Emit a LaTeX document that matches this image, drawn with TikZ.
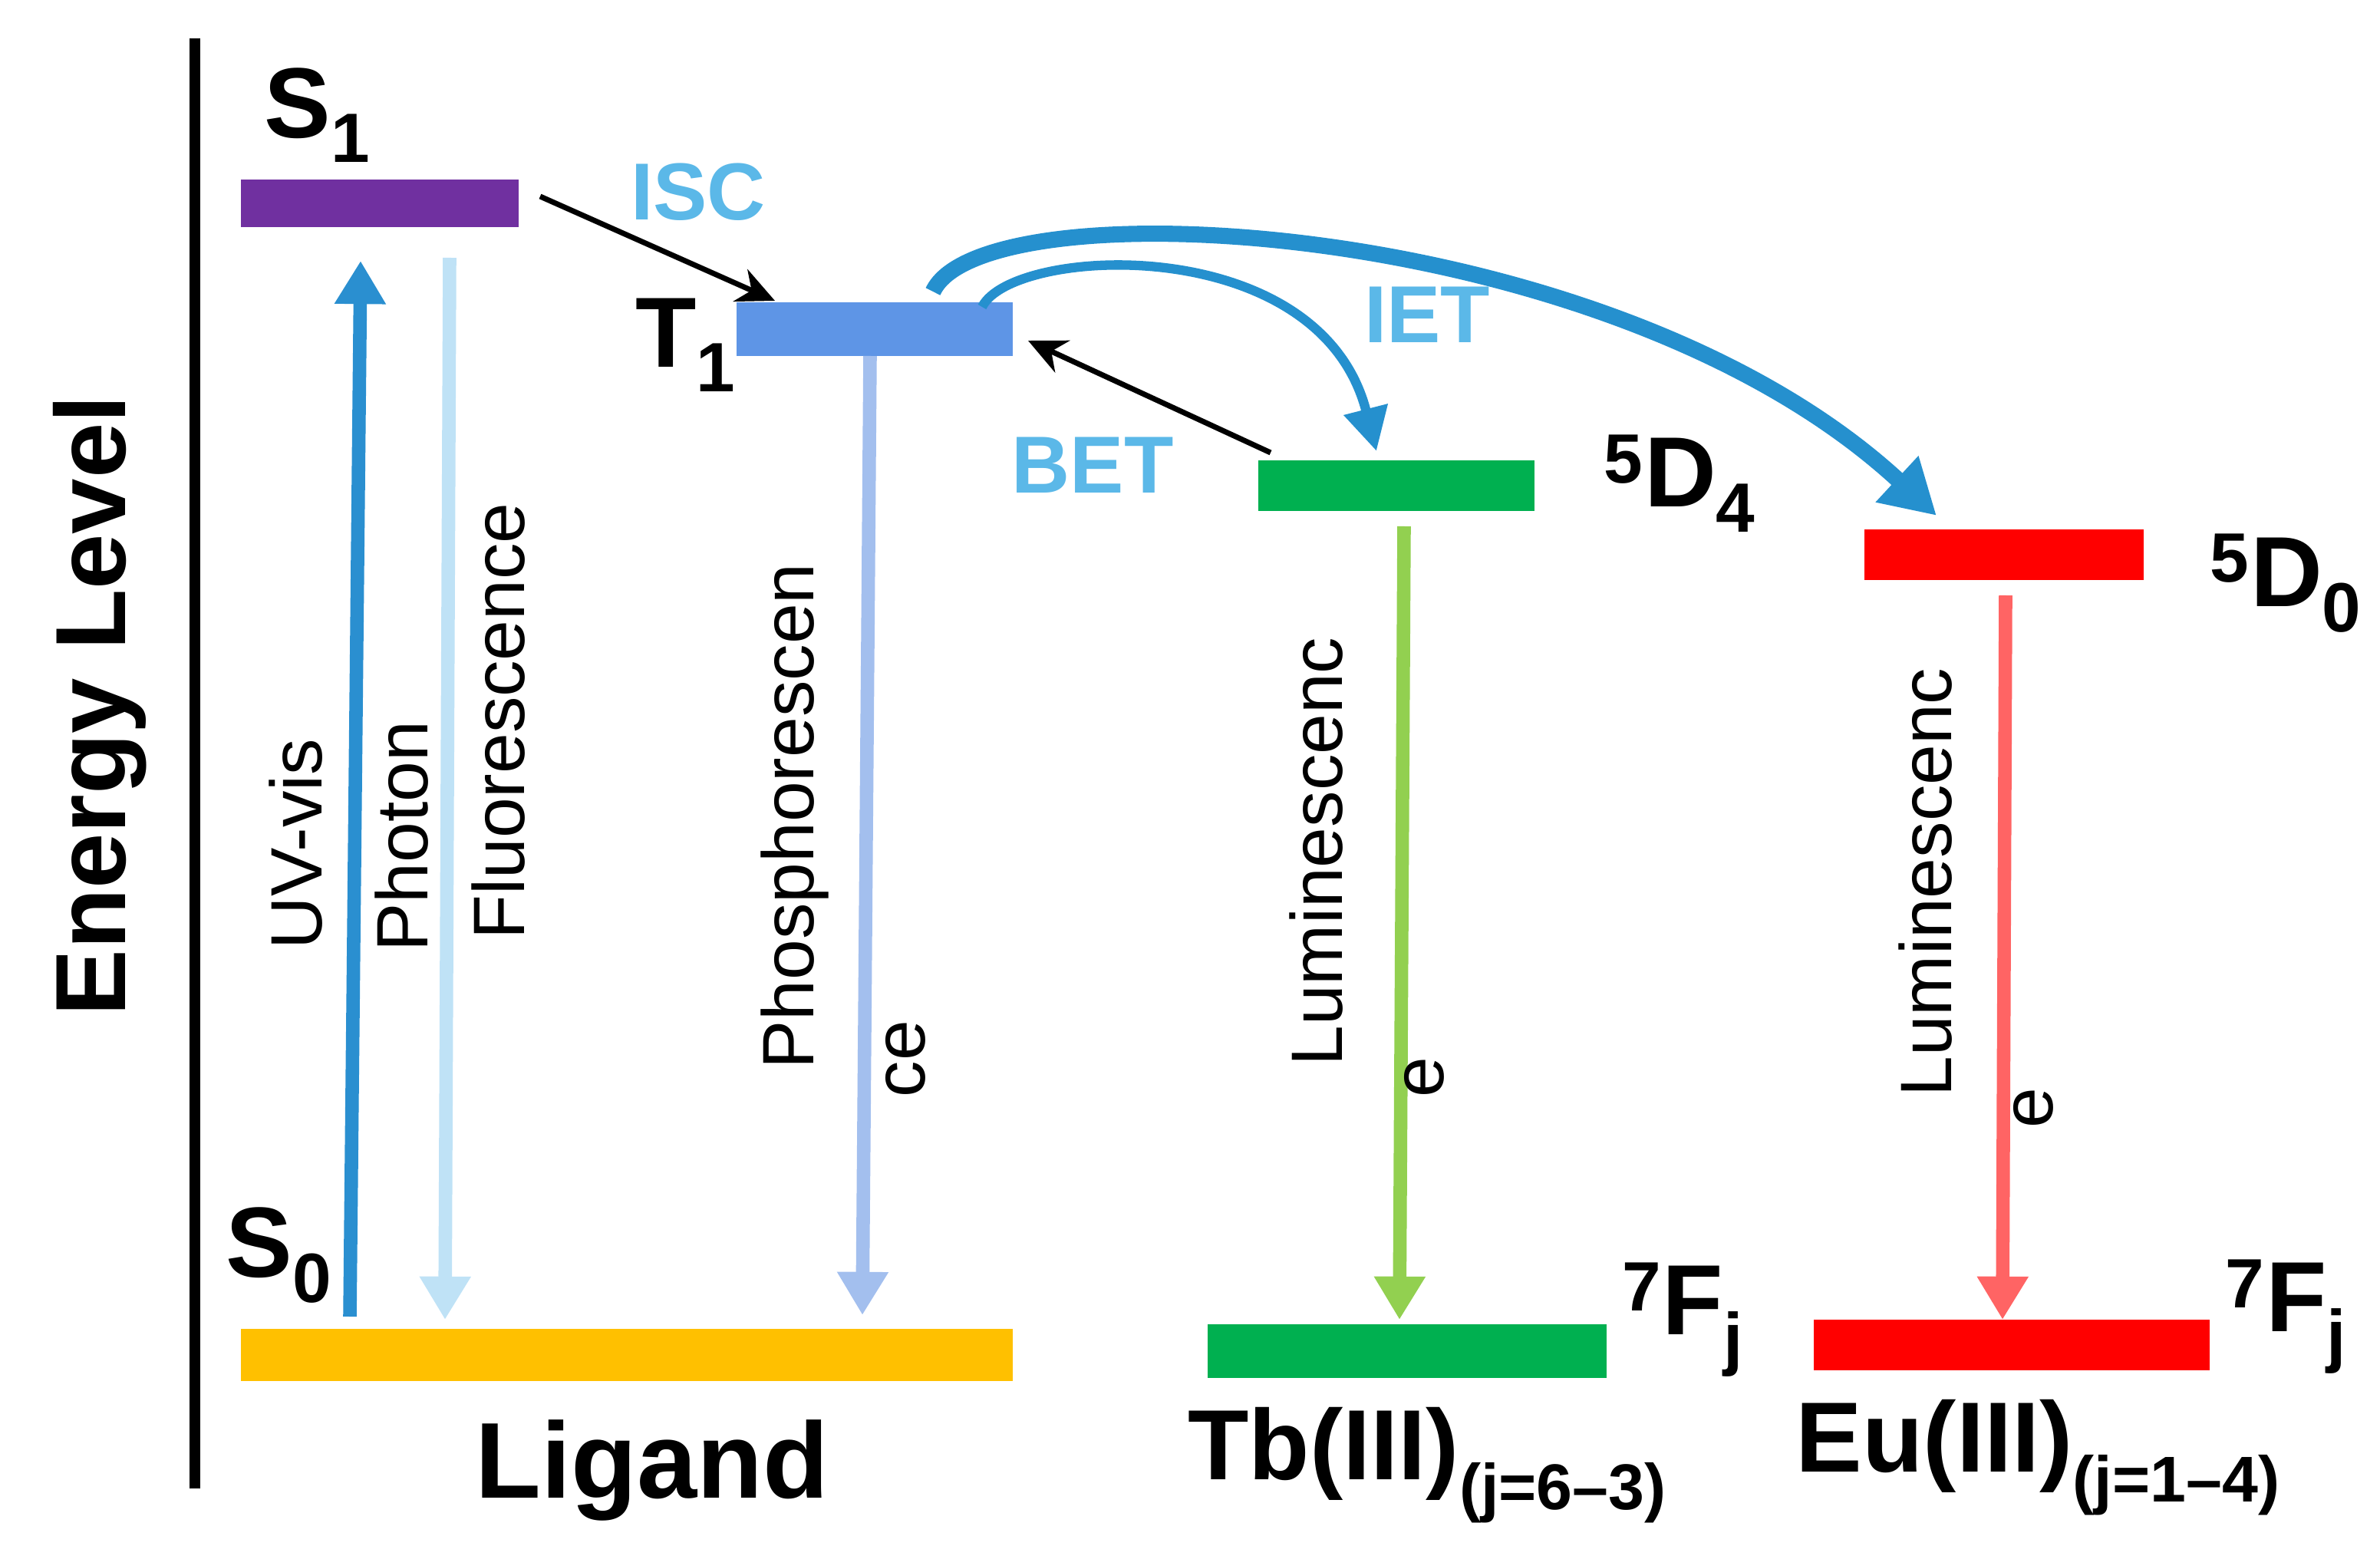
\documentclass[tikz,border=0pt]{standalone}
\usepackage{fontspec}
\setmainfont{Liberation Sans}
\usetikzlibrary{arrows.meta}
\definecolor{isc}{HTML}{5BB8E8}
\definecolor{uv}{HTML}{2A8FD0}
\definecolor{fl}{HTML}{BFE2F6}
\definecolor{ph}{HTML}{A3BFEE}
\definecolor{tone}{HTML}{5E95E6}
\definecolor{gbar}{HTML}{00B050}
\definecolor{lgreen}{HTML}{92D050}
\definecolor{lred}{HTML}{FF6464}
\definecolor{iet}{HTML}{2590CE}
\begin{document}
\begin{tikzpicture}[x=0.02cm,y=-0.02cm,
  lab/.style={font=\fontsize{27}{27}\selectfont},
  big/.style={font=\bfseries\fontsize{37}{37}\selectfont},
  vt/.style={line width=5pt,-{Triangle[length=16pt,width=18pt]}},
  blk/.style={line width=2pt,-{Stealth[length=14pt,width=13pt]}},
  trans/.style={color=isc,font=\bfseries\fontsize{30}{30}\selectfont},
]
\useasboundingbox (0,0) rectangle (1551,1007.5);
\draw[line width=4pt] (127,25) -- (127,970);
\node[big,rotate=90] (el) at (65,460) {Energy Level};
% bars
\fill[color={rgb,255:red,112;green,48;blue,160}] (157,117) rectangle (338,148);
\fill[tone] (480,197) rectangle (660,232);
\fill[color={rgb,255:red,255;green,192;blue,0}] (157,866) rectangle (660,900);
\fill[gbar] (820,300) rectangle (1000,333);
\fill[red] (1215,345) rectangle (1397,378);
\fill[gbar] (787,863) rectangle (1047,898);
\fill[red] (1182,860) rectangle (1440,893);
% labels
\node[big] (ls1) at (207,75) {S$_{\mathbf 1}$};
\node[big] (lt1) at (447,225) {T$_{\mathbf 1}$};
\node[big] (ls0) at (182,818) {S$_{\mathbf 0}$};
\node[big,font=\bfseries\fontsize{40}{40}\selectfont] (lig) at (425,958) {Ligand};
\node[big] (d4) at (1095,315) {$^{\mathbf 5}$D$_{\mathbf 4}$};
\node[big] (d0) at (1490,380) {$^{\mathbf 5}$D$_{\mathbf 0}$};
\node[big] (f1) at (1097,860) {$^{\mathbf 7}$F$_{\mathbf j}$};
\node[big] (f2) at (1490,858) {$^{\mathbf 7}$F$_{\mathbf j}$};
\node[big] (tb) at (930,955) {Tb(III)\raisebox{-0.3em}{\fontsize{24}{24}\selectfont(j=6–3)}};
\node[big] (eu) at (1328,950) {Eu(III)\raisebox{-0.3em}{\fontsize{24}{24}\selectfont(j=1–4)}};
% vertical arrows
\coordinate (a1) at (228,858); \coordinate (a2) at (235,170);
\draw[uv,vt] (a1) -- (a2);
\coordinate (b1) at (293,168); \coordinate (b2) at (290,860);
\draw[fl,vt] (b1) -- (b2);
\coordinate (c1) at (567,232); \coordinate (c2) at (562,857);
\draw[ph,vt] (c1) -- (c2);
\coordinate (d1) at (915,343); \coordinate (d2) at (912,860);
\draw[lgreen,vt] (d1) -- (d2);
\coordinate (e1) at (1307,388); \coordinate (e2) at (1305,860);
\draw[lred,vt] (e1) -- (e2);
\node[lab,rotate=90] (uvl) at (193,550) {UV-vis};
\node[lab,rotate=90] (pl) at (262,545) {Photon};
\node[lab,rotate=90] (fll) at (325,470) {Fluorescence};
\node[lab,rotate=90] (phl) at (518,532) {Phosphorescen};
\node[lab,rotate=90] (phl2) at (590,690) {ce};
\node[lab,rotate=90] (lu1) at (858,555) {Luminescenc};
\node[lab,rotate=90] (lu1b) at (928,702) {e};
\node[lab,rotate=90] (lu2) at (1255,575) {Luminescenc};
\node[lab,rotate=90] (lu2b) at (1325,722) {e};
% ISC / BET
\coordinate (i1) at (352,128); \coordinate (i2) at (505,196);
\draw[blk] (i1) -- (i2);
\node[trans] (iscl) at (455,125) {ISC};
\coordinate (bt1) at (828,295); \coordinate (bt2) at (670,222);
\draw[blk] (bt1) -- (bt2);
\node[trans] (betl) at (712,303) {BET};
\node[trans] (ietl) at (930,205) {IET};
% IET curves
\coordinate (g1) at (640,200); \coordinate (g2) at (897,294);
\draw[iet,line width=3.5pt,-{Triangle[length=16pt,width=16pt]}] (g1) .. controls (660,160) and (860,150) .. (g2);
\coordinate (h1) at (608,190); \coordinate (h2) at (1262,336);
\draw[iet,line width=6pt,-{Triangle[length=20pt,width=22pt]}] (h1) .. controls (640,120) and (1050,140) .. (h2);
\end{tikzpicture}
\end{document}
